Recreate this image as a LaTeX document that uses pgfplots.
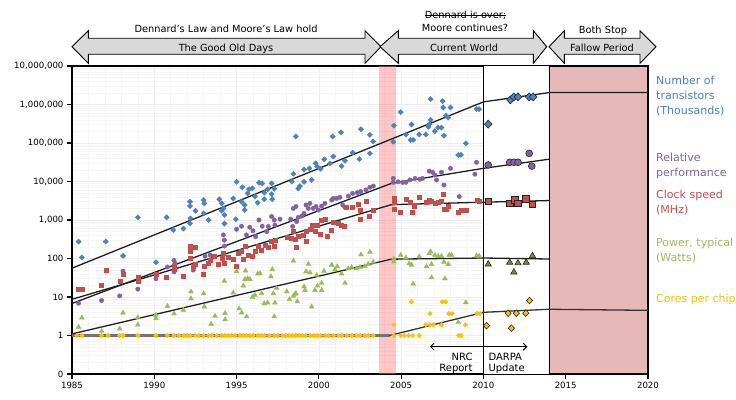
\documentclass[border=0pt]{standalone}
\usepackage{fontspec}
\setmainfont{DejaVu Sans}
\usepackage{pgfplots}
\usepackage{pgfplotstable}
\pgfplotsset{compat=1.18}
\usetikzlibrary{arrows.meta}
\definecolor{cblue}{HTML}{4F81BD}
\definecolor{cred}{HTML}{C0504D}
\definecolor{cgreen}{HTML}{9BBB59}
\definecolor{cgreendk}{HTML}{76923C}
\definecolor{cpurple}{HTML}{8064A2}
\definecolor{corange}{HTML}{FFC000}
\definecolor{cpink}{HTML}{E6B9B8}
\definecolor{carrow}{HTML}{D9D9D9}
\definecolor{trend}{HTML}{1F1F1F}

\pgfplotstableread{
x y
1985.4 275
1985.6 107
1987.05 275
1988.1 117
1989.0 1170
1990.1 80
1990.75 1170
1991.15 550
1991.77 600
1992.17 3000
1992.17 2300
1992.5 1740
1992.2 1100
1992.17 810
1993.0 3300
1993.04 2700
1993.0 1480
1993.3 1000
1993.95 3470
1994.09 2700
1994.2 2000
1994.26 1350
1994.26 810
1994.1 1740
1994.8 3630
1994.95 1050
1995.0 9800
1995.3 3000
1995.35 7100
1995.5 1820
1995.5 2450
1995.67 4900
1995.75 6300
1995.96 6600
1996.12 4070
1996.28 2820
1996.36 9300
1996.56 8900
1996.68 5100
1996.68 3470
1996.89 6300
1997.13 8900
1997.13 4700
1997.17 3470
1997.29 6500
1998.6 148000
1998.45 15800
1998.35 10000
1998.75 6600
1998.85 7600
1999.1 9800
1999.1 20400
1999.42 21900
1999.56 11000
1999.8 29500
1999.9 24500
2000.1 21400
2000.33 38000
2000.68 29500
2000.84 148000
2000.88 44700
2001.35 190000
2001.38 25100
2001.59 34700
2002.05 56000
2002.46 38000
2002.56 229000
2003.1 162000
2003.3 110000
2003.1 53700
2004.56 282000
2004.52 107000
2004.97 631000
2005.29 166000
2005.63 302000
2005.57 120000
2005.73 120000
2006.1 166000
2006.5 166000
2006.65 263000
2006.79 1380000
2006.79 398000
2006.71 302000
2007.05 204000
2007.25 251000
2007.45 251000
2007.6 155000
2007.52 1230000
2007.56 832000
2007.72 513000
2007.86 457000
2008.0 832000
2008.93 98000
2008.47 49000
2008.63 49000
2009.58 759000
2009.74 759000
}\transistors

\pgfplotstableread{
x y
1985.4 6.9
1986.8 8.1
1987.9 10.7
1988.1 47
1989.0 16
1990.1 30
1990.8 60
1991.2 89
1991.2 45
1991.26 74
1992.37 50
1992.2 204
1993.08 115
1993.4 123
1994.2 410
1994.26 300
1994.26 210
1995.0 575
1995.3 690
1995.6 410
1995.8 650
1996.0 525
1996.16 370
1996.36 1000
1996.56 690
1996.83 500
1997.13 1230
1997.29 1000
1997.33 740
1996.93 680
1997.64 1050
1998.45 2000
1998.61 2240
1998.29 1050
1998.41 680
1998.65 910
1998.75 1170
1998.96 1260
1999.1 1480
1999.22 2450
1999.36 2000
1999.46 2700
1999.66 2000
1999.83 2240
1999.97 1820
2000.17 2290
2000.37 2700
2000.78 3300
2000.88 3630
2001.08 3630
2001.28 3890
2001.45 2450
2001.59 2140
2001.79 4170
2002.05 4900
2002.34 5130
2002.54 5500
2002.86 6030
2003.1 7080
2003.31 7590
2004.52 12000
2004.52 9500
2004.82 9800
2005.09 9500
2005.29 9500
2005.53 11000
2005.84 12000
2006.14 11500
2006.3 12000
2006.71 18600
2006.91 17400
2007.05 14800
2007.15 11000
2007.45 17400
2007.6 8100
2008.0 21900
2008.53 4070
2009.58 31600
2009.48 15500
}\performance

\pgfplotstableread{
x y
1985.4 16
1985.6 16
1986.8 20
1987.05 51
1987.9 25
1988.1 39
1989.0 32
1989.0 26
1990.1 38
1990.75 32
1991.2 63
1991.2 52
1991.77 34
1992.17 204
1992.17 151
1992.5 195
1992.17 100
1992.37 62
1992.5 72
1993.0 40
1993.04 63
1993.3 74
1993.4 91
1993.65 117
1993.9 72
1994.1 100
1994.2 135
1994.26 74
1994.5 107
1994.8 95
1994.95 63
1995.1 135
1995.3 151
1995.4 95
1995.5 204
1995.7 123
1995.96 112
1996.12 151
1996.32 204
1996.52 166
1996.72 224
1996.93 195
1997.13 275
1997.29 209
1997.37 302
1998.05 355
1998.29 331
1998.45 500
1998.55 316
1998.65 195
1998.75 372
1999.02 407
1999.22 275
1999.22 500
1999.46 575
1999.62 741
1999.76 500
1999.87 741
2000.11 437
2000.17 1000
2000.37 1050
2000.51 380
2000.78 550
2000.88 851
2001.18 813
2001.38 741
2001.53 692
2001.69 2140
2002.05 2140
2002.4 2630
2002.5 1820
2002.54 1050
2002.9 3160
2003.06 1230
2003.31 1820
2004.56 3630
2004.56 2880
2004.56 1900
2004.97 1580
2005.29 3550
2005.57 2880
2005.69 1580
2005.77 2240
2006.1 3800
2006.54 2880
2006.71 3310
2006.85 3020
2007.05 2690
2007.25 2880
2007.45 3020
2007.56 4680
2007.6 1900
2007.76 1900
2007.86 2240
2008.47 1580
2008.67 1820
2008.93 1820
2009.62 3310
2009.74 3090
}\clock

\pgfplotstableread{
x y
1985.4 1.66
1985.6 2.9
1986.8 1.3
1987.9 1.5
1988.1 3.9
1989.0 1.9
1989.0 2.95
1990.1 2.8
1990.1 3.4
1990.8 5.75
1991.2 3.7
1991.77 4.6
1992.23 13.8
1992.23 9.1
1993.0 12.3
1993.04 5.6
1993.45 2.0
1993.69 3.2
1994.26 26
1994.3 3.8
1994.3 2.6
1994.8 12.9
1995.0 46
1995.15 5.0
1995.31 3.9
1995.41 19.5
1995.51 29
1995.55 48
1995.67 30
1995.61 3.1
1995.81 29
1995.96 9.8
1996.12 11.2
1996.28 40
1996.42 41
1996.52 12.3
1996.68 6.8
1996.89 7.1
1997.09 34
1997.17 52
1997.23 12.3
1997.33 7.1
1997.43 17
1997.29 3.1
1998.45 87
1998.05 13.8
1998.21 8.7
1998.45 10.7
1998.55 12
1998.69 7.6
1998.61 12.3
1999.22 46
1999.36 72
1999.46 43
1999.1 18.6
1999.16 15
1999.56 5.6
1999.76 15
1999.91 19.5
1999.87 37
2000.17 15
2000.17 23
2000.31 47
2000.78 68
2000.98 52
2001.12 62
2001.38 40
2001.59 23
2001.79 55
2001.99 59
2002.3 55
2002.5 59
2002.56 126
2002.8 63
2003.0 72
2003.1 148
2003.31 81
2004.56 98
2004.56 83
2004.97 123
2005.29 105
2005.49 74
2005.63 68
2005.73 22
2006.1 112
2006.54 62
2006.71 135
2006.79 151
2006.85 71
2006.85 32
2007.05 123
2007.25 115
2007.45 115
2007.6 81
2007.66 30
2007.86 71
2007.92 123
2008.06 123
2008.93 7.2
2008.47 2.2
2009.58 117
2009.74 117
}\power

\pgfplotstableread{
x y
1985.3 1
1985.6 1
1986.8 1
1987.2 1
1987.9 1
1988.1 1
1989.0 1
1990.1 1
1990.8 1
1991.2 1
1991.5 1
1991.8 1
1992.0 1
1992.2 1
1992.5 1
1992.7 1
1993.0 1
1993.3 1
1993.5 1
1993.8 1
1994.1 1
1994.3 1
1994.5 1
1994.7 1
1994.9 1
1995.2 1
1995.4 1
1995.6 1
1995.8 1
1996.0 1
1996.3 1
1996.5 1
1996.7 1
1997.0 1
1997.3 1
1997.5 1
1997.8 1
1998.0 1
1998.2 1
1998.4 1
1998.6 1
1998.8 1
1999.0 1
1999.2 1
1999.5 1
1999.7 1
1999.9 1
2000.1 1
2000.4 1
2000.6 1
2000.9 1
2001.2 1
2001.4 1
2001.7 1
2002.0 1
2002.3 1
2002.5 1
2002.8 1
2003.0 1
2003.3 1
2004.56 1.9
2004.56 1
2004.97 1
2005.2 1
2005.45 1
2005.7 1
2006.1 1
2005.63 7.5
2006.75 3.7
2006.5 1.9
2006.75 1.9
2006.95 1.9
2007.5 7.5
2007.7 7.5
2007.45 1.9
2007.9 3.7
2008.1 3.7
2008.5 1
2008.65 1
2008.9 1.9
2009.6 3.7
2009.8 3.7
}\cores

\newcommand{\dblarrow}[4]{%
  \filldraw[fill=carrow, draw=black, line width=0.9pt, line join=miter]
  (#1,327.3) -- (#2,343.3) -- (#2,335.7) -- (#3,335.7) -- (#3,343.3) -- (#4,327.3)
  -- (#3,310.7) -- (#3,319.7) -- (#2,319.7) -- (#2,310.7) -- cycle;}

\begin{document}
\begin{tikzpicture}[x=1pt,y=1pt]
\useasboundingbox (-72,-25) rectangle (664,374);
\begin{axis}[
  at={(0,0)}, anchor=south west,
  scale only axis, width=576pt, height=308pt,
  xmin=1985, xmax=2020, ymode=log, ymin=0.1, ymax=1e7,
  xtick={1985,1990,1995,2000,2005,2010,2015,2020},
  xticklabels={1985,1990,1995,2000,2005,2010,2015,2020},
  ytick={0.1,1,10,100,1000,10000,100000,1000000,10000000},
  yticklabels={0,1,10,100,{1,000},{10,000},{100,000},{1,000,000},{10,000,000}},
  tick align=outside, xtick pos=bottom, ytick pos=left,
  major tick length=5pt, minor tick length=0pt,
  minor x tick num=4,
  tick style={black, line width=1.2pt},
  axis line style={black, line width=1.5pt},
  ticklabel style={font=\fontsize{8.6}{10}\selectfont},
  grid=both, major grid style={black!7, line width=0.5pt}, minor grid style={black!4, line width=0.5pt},
]
\fill[white] (2010,0.1) rectangle (2014,1e7);
% small scatter points
\addplot[only marks, mark=diamond*, mark size=2.6pt, color=cblue, mark options={draw=cblue, fill=cblue, xscale=1.35}] table {\transistors};
\addplot[only marks, mark=*, mark size=2.2pt, color=cpurple, mark options={draw=cpurple, fill=cpurple}] table {\performance};
\addplot[only marks, mark=square*, mark size=2.0pt, color=cred, mark options={draw=cred, fill=cred}] table {\clock};
\addplot[only marks, mark=triangle*, mark size=2.8pt, color=cgreen, mark options={draw=cgreen, fill=cgreen}] table {\power};
\addplot[only marks, mark=diamond*, mark size=2.3pt, color=corange, mark options={draw=corange, fill=corange, xscale=1.3}] table {\cores};
% pink band
\fill[fill={rgb,255:red,250;green,130;blue,130}, fill opacity=0.45] (2003.65,0.1) rectangle (2004.68,1e7);
% fallow region
\filldraw[fill=cpink, draw=black, line width=1.2pt] (2014,0.1) rectangle (2020,1e7);
\draw[black, line width=1.3pt] (2010,0.1) -- (2010,1e7);
% trend lines
\addplot[trend, line width=1.3pt, no marks] coordinates {(1985,56) (2010,1170000) (2014,2040000) (2020,2040000)};
\addplot[trend, line width=1.3pt, no marks] coordinates {(1985,6.8) (2004.4,8900) (2010,22000) (2014,38000)};
\addplot[trend, line width=1.3pt, no marks] coordinates {(1985,8.7) (2004.4,2500) (2010,2900) (2014,3200)};
\addplot[trend, line width=1.3pt, no marks] coordinates {(1985,1.1) (2004.4,96) (2010,103) (2014,97)};
\addplot[black!55, line width=2.4pt, no marks] coordinates {(1985,1) (2004.3,1)};
\addplot[black!80, line width=1.3pt, no marks] coordinates {(2004.3,1) (2010,4.0) (2014,4.8) (2020,4.5)};
% large markers 2010-2014
\addplot[only marks, mark=diamond*, mark size=4.0pt, mark options={draw=black!85, fill=cblue, line width=0.6pt, xscale=1.25}] coordinates {(2010.29,309000) (2011.64,1320000) (2011.85,1580000) (2012.1,1580000) (2012.78,1580000) (2013.02,1580000)};
\addplot[only marks, mark=*, mark size=3.4pt, mark options={draw=black!85, fill=cpurple, line width=0.6pt}] coordinates {(2010.29,26900) (2011.6,31600) (2011.85,31600) (2012.1,31600) (2012.78,53700) (2012.94,25100)};
\addplot[only marks, mark=square*, mark size=3.2pt, mark options={draw=black!85, fill=cred, line width=0.6pt}] coordinates {(2010.29,3090) (2011.6,2690) (2011.9,3310) (2012.1,2690) (2012.57,3550) (2012.98,2570)};
\addplot[only marks, mark=triangle*, mark size=3.6pt, mark options={draw=black!85, fill=cgreendk, line width=0.6pt}] coordinates {(2010.29,71) (2011.6,79) (2012.1,76) (2012.6,79) (2011.85,44) (2012.98,117)};
\addplot[only marks, mark=diamond*, mark size=3.3pt, mark options={draw=black!85, fill=corange, line width=0.6pt, xscale=1.25}] coordinates {(2010.19,1.8) (2011.7,1.55) (2011.5,3.8) (2012.0,3.8) (2012.57,3.8) (2012.8,8.1)};
\end{axis}
% top arrows
\dblarrow{0}{16.3}{293}{309}
\dblarrow{308}{326.3}{461.3}{474.7}
\dblarrow{477}{492.3}{568}{584}
\begin{scope}[every node/.style={font=\fontsize{9.8}{12}\selectfont, inner sep=0pt}]
\node[anchor=base] at (154,341.3) {Dennard's Law and Moore's Law hold};
\node[anchor=base] at (154,322.3) {The Good Old Days};
\node[anchor=base] (dn) at (393.5,355.7) {Dennard is over;};
\draw[line width=0.6pt] ([yshift=3.4pt]dn.base west) -- ([yshift=3.4pt]dn.base east);
\node[anchor=base] at (393,342.3) {Moore continues?};
\node[anchor=base] at (392,322.3) {Current World};
\node[anchor=base] at (531,340.7) {Both Stop};
\node[anchor=base] at (530,322.3) {Fallow Period};
\end{scope}
% right labels
\begin{scope}[every node/.style={font=\fontsize{11}{13}\selectfont, inner sep=0pt, anchor=base west}]
\node[text=cblue] at (584,289) {Number of};
\node[text=cblue] at (584,274) {transistors};
\node[text=cblue] at (584,259) {(Thousands)};
\node[text=cpurple] at (584,212) {Relative};
\node[text=cpurple] at (584,197) {performance};
\node[text=cred] at (584,175) {Clock speed};
\node[text=cred] at (584,160) {(MHz)};
\node[text=cgreen] at (584,128) {Power, typical};
\node[text=cgreen] at (584,113) {(Watts)};
\node[text=corange] at (584,72) {Cores per chip};
\end{scope}
% NRC / DARPA annotation
\draw[{Straight Barb[length=3.5pt,width=7pt]}-{Straight Barb[length=3.5pt,width=7pt]}, line width=0.9pt] (358,27.3) -- (455.3,27.3);
\begin{scope}[every node/.style={font=\fontsize{10}{12}\selectfont, inner sep=0pt}]
\node[anchor=base east] at (400.7,13.3) {NRC};
\node[anchor=base east] at (400.7,2.3) {Report};
\node[anchor=base west] at (416.3,13.3) {DARPA};
\node[anchor=base west] at (416.3,2.3) {Update};
\end{scope}
\end{tikzpicture}
\end{document}
